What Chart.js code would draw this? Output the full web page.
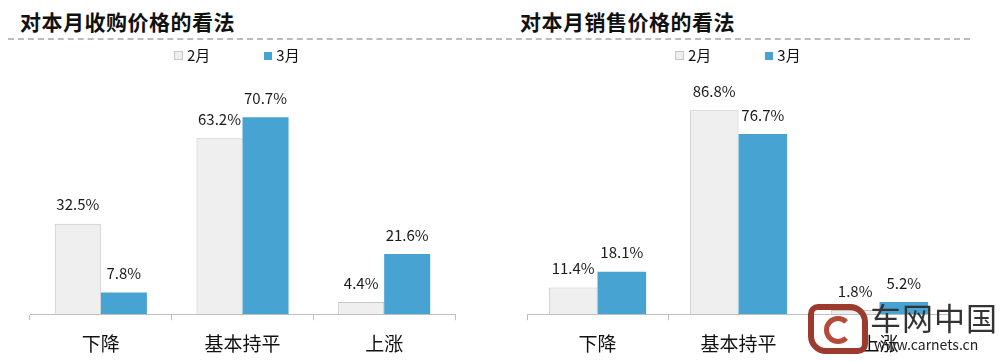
<!DOCTYPE html>
<html>
<head>
<meta charset="utf-8">
<script src="https://cdn.jsdelivr.net/npm/chart.js@4.4.1/dist/chart.umd.min.js"></script>
<style>
  body { margin: 0; background: #fff; font-family: 'Noto Sans CJK SC', sans-serif; }
  #wrap { position: relative; width: 1000px; height: 361px; overflow: hidden; }
  .panel { position: absolute; top: 0; width: 500px; height: 367px; }
  .title { position: absolute; top: 6px; font-size: 21px; font-weight: 700; color: #111; letter-spacing: 0.5px; }
  .dash { position: absolute; top: 38px; left: 8px; width: 962px; height: 0; border-top: 2px dashed #bcbcbc; }
  .legend { position: absolute; top: 44px; font-size: 15px; color: #111; white-space: nowrap; }
  .legend span.box { display: inline-block; width: 8px; height: 8px; margin-right: 4px; vertical-align: 1px; }
  .legend .item { display: inline-block; margin-right: 54px; }
  .logo { position: absolute; left: 870px; top: 298px; color: #333; white-space: nowrap; }
  .logo .big { font-size: 31px; letter-spacing: 1px; line-height: 38px; }
  .logo .small { font-size: 14px; margin-left: 4px; line-height: 16px; color: #222; }
  .badge { position: absolute; left: 808px; top: 304px; width: 48px; height: 38px; border: 6px solid #9c3a2e; border-radius: 10px 18px 10px 18px; }
  .badge i { position: absolute; left: 10px; top: 6px; width: 18px; height: 18px; border: 5px solid #b5493a; border-radius: 50%; border-right-color: transparent; }
</style>
</head>
<body>
<div id="wrap">
  <div class="title" style="left:20px">对本月收购价格的看法</div>
  <div class="title" style="left:520px">对本月销售价格的看法</div>
  <div class="dash"></div>
  <div class="panel" style="left:0"><canvas id="buyChart" width="500" height="367"></canvas></div>
  <div class="panel" style="left:500px"><canvas id="sellChart" width="500" height="367"></canvas></div>
  <div class="legend" style="left:174px">
    <span class="item"><span class="box" style="background:#efefef;border:1px solid #c6c6c6;width:7px;height:7px"></span>2月</span><span class="item"><span class="box" style="background:#46a3d2"></span>3月</span>
  </div>
  <div class="legend" style="left:675px">
    <span class="item"><span class="box" style="background:#efefef;border:1px solid #c6c6c6;width:7px;height:7px"></span>2月</span><span class="item"><span class="box" style="background:#46a3d2"></span>3月</span>
  </div>
  <div class="badge"><i></i></div>
  <div class="logo"><div class="big">车网中国</div><div class="small">www.carnets.cn</div></div>
</div>
<script>
const categories = ['下降', '基本持平', '上涨'];
const seriesNames = ['2月', '3月'];
const buyFeb = [32.5, 63.2, 4.4];
const buyMar = [7.8, 70.7, 21.6];
const sellFeb = [11.4, 86.8, 1.8];
const sellMar = [18.1, 76.7, 5.2];

const FEB_FILL = '#efefef';
const FEB_BORDER = '#c6c6c6';
const MAR_FILL = '#46a3d2';
const AXIS_GRAY = '#bfbfbf';

// draws the "xx.x%" value above each bar
const valueLabels = {
    id: 'valueLabels',
    afterDatasetsDraw(chart) {
        const ctx = chart.ctx;
        ctx.save();
        ctx.font = "15px 'Noto Sans CJK SC', sans-serif";
        ctx.fillStyle = '#1a1a1a';
        ctx.textAlign = 'center';
        ctx.textBaseline = 'middle';
        chart.data.datasets.forEach((ds, i) => {
            chart.getDatasetMeta(i).data.forEach((bar, j) => {
                ctx.fillText(ds.data[j].toFixed(1) + '%', bar.x, bar.y - 19);
            });
        });
        ctx.restore();
    }
};

function makeChart(id, feb, mar, yMax, pad, catPct) {
    return new Chart(document.getElementById(id), {
        type: 'bar',
        data: {
            labels: categories,
            datasets: [
                { label: seriesNames[0], data: feb, backgroundColor: FEB_FILL, borderColor: FEB_BORDER, borderWidth: 1 },
                { label: seriesNames[1], data: mar, backgroundColor: MAR_FILL, borderWidth: 0 }
            ]
        },
        options: {
            responsive: false,
            animation: false,
            events: [],
            categoryPercentage: catPct,
            barPercentage: 1,
            layout: { padding: pad },
            plugins: { legend: { display: false }, tooltip: { enabled: false } },
            scales: {
                x: {
                    grid: { display: true, offset: true, drawOnChartArea: false, drawTicks: true, tickLength: 6, color: AXIS_GRAY },
                    border: { display: true, color: AXIS_GRAY, width: 1 },
                    ticks: { color: '#111', padding: 12, font: { size: 19, family: "'Noto Sans CJK SC', sans-serif" } }
                },
                y: { display: false, min: 0, max: yMax }
            }
        },
        plugins: [valueLabels]
    });
}

makeChart('buyChart', buyFeb, buyMar, 91.3, { left: 30, right: 45, top: 60, bottom: 0 }, 0.65);
makeChart('sellChart', sellFeb, sellMar, 108.2, { left: 27, right: 50, top: 60, bottom: 0 }, 0.69);
</script>
</body>
</html>
